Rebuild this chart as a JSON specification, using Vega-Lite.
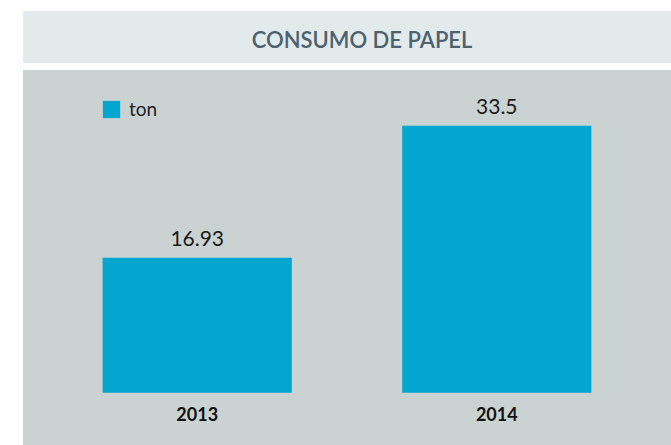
{
  "$schema": "https://vega.github.io/schema/vega-lite/v6.json",
  "background": "#ffffff",
  "padding": {"left": 23, "top": 11, "right": 0, "bottom": 0},
  "autosize": {"type": "pad"},
  "spacing": 7,
  "config": {
    "font": "Lato",
    "view": {"stroke": null}
  },
  "datasets": {
    "titulo": [{"texto": "CONSUMO DE PAPEL"}],
    "consumo": [
      {"ano": "2013", "valor": 16.93, "serie": "ton"},
      {"ano": "2014", "valor": 33.5, "serie": "ton"}
    ]
  },
  "vconcat": [
    {
      "width": 648,
      "height": 52,
      "view": {"fill": "#e3eaec", "stroke": null},
      "data": {"name": "titulo"},
      "mark": {"type": "text", "font": "Lato", "fontSize": 22, "fontWeight": 600, "color": "#4d626e", "dx": 15, "baseline": "middle", "align": "center", "dy": 4},
      "encoding": {"text": {"field": "texto"}}
    },
    {
      "width": 648,
      "height": 375,
      "view": {"fill": "#cbd3d2", "stroke": null},
      "data": {"name": "consumo"},
      "encoding": {
        "x": {
          "field": "ano",
          "type": "nominal",
          "scale": {"paddingInner": 0.3684, "paddingOuter": 0.2658},
          "axis": {
            "title": null,
            "offset": -52,
            "domain": false,
            "ticks": false,
            "labelAngle": 0,
            "labelFont": "Lato",
            "labelFontSize": 18,
            "labelFontWeight": "bold",
            "labelColor": "#111111",
            "labelPadding": 13,
            "labelBaseline": "top"
          }
        },
        "y": {
          "field": "valor",
          "type": "quantitative",
          "scale": {"domain": [-6.56, 40.49], "zero": false, "nice": false},
          "axis": null
        }
      },
      "layer": [
        {
          "mark": {"type": "bar", "opacity": 1},
          "encoding": {
            "color": {
              "field": "serie",
              "type": "nominal",
              "scale": {"range": ["#02a6cf"]},
              "legend": {
                "title": null,
                "orient": "none",
                "legendX": 79,
                "legendY": 89,
                "padding": 0,
                "symbolType": "square",
                "symbolSize": 300,
                "symbolStrokeWidth": 0,
                "symbolOpacity": 1,
                "labelFont": "Lato",
                "labelFontSize": 19,
                "labelColor": "#222222",
                "labelOffset": 8
              }
            }
          }
        },
        {
          "mark": {"type": "text", "baseline": "bottom", "dy": -8, "font": "Lato", "fontSize": 21, "color": "#1a1a1a"},
          "encoding": {"text": {"field": "valor", "type": "quantitative", "format": ".4~f"}}
        }
      ]
    }
  ]
}
